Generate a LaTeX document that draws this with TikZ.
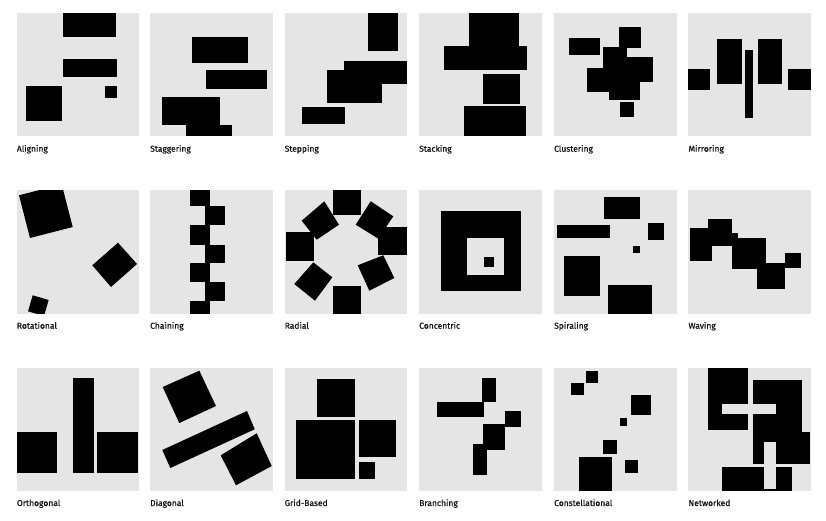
\documentclass[tikz,border=0pt]{standalone}
\usepackage{fontspec}
\setmainfont{Fira Sans}
\newfontfamily\lblfont[FakeBold=0.6]{Fira Sans}
\definecolor{panelgray}{RGB}{229,229,229}
\definecolor{labelcol}{RGB}{20,20,20}
\begin{document}
\begin{tikzpicture}[x=1pt,y=-1pt,
  panel/.style={fill=panelgray},
  blk/.style={fill=black},
  slot/.style={fill=panelgray},
  lbl/.style={anchor=base west,inner sep=0pt,text=labelcol,font=\lblfont\fontsize{8.5}{10}\selectfont}]
\useasboundingbox (0,0) rectangle (826,521);
\fill[white] (0,0) rectangle (826,521);
% ---------- panels ----------
\foreach \px in {16.7,150,284.5,419,554,688.3}{
  \fill[panel] (\px,13) rectangle ++(122.5,123);
  \fill[panel] (\px,190.5) rectangle ++(122.5,123);
  \fill[panel] (\px,368.3) rectangle ++(122.5,122.5);
}
% ---------- Row 1 ----------
% Aligning
\fill[blk] (63.3,13) rectangle (115.7,37.3);
\fill[blk] (63.3,59.3) rectangle (117.3,77.3);
\fill[blk] (26,86.3) rectangle (61.7,121.3);
\fill[blk] (105.3,86.3) rectangle (117.3,98);
\node[lbl] (l1) at (16.7,151.7) {Aligning};
% Staggering
\fill[blk] (192,37.3) rectangle (248.3,63.3);
\fill[blk] (205.7,70.3) rectangle (267.3,88.7);
\fill[blk] (162.3,97.3) rectangle (220.3,125.3);
\fill[blk] (185.7,125) rectangle (231.7,136);
\node[lbl] (l2) at (150,151.7) {Staggering};
% Stepping
\fill[blk] (368.3,13) rectangle (398,51.3);
\fill[blk] (344.3,61.3) rectangle (407,83.7);
\fill[blk] (327,70.3) rectangle (382.3,102.7);
\fill[blk] (302,106.7) rectangle (345,124.3);
\node[lbl] (l3) at (284.5,151.7) {Stepping};
% Stacking
\fill[blk] (469,13) rectangle (519.3,46.7);
\fill[blk] (443.7,46) rectangle (527.3,69.7);
\fill[blk] (482.7,74) rectangle (520.3,104.3);
\fill[blk] (463.7,106) rectangle (526.3,136);
\node[lbl] (l4) at (419,151.7) {Stacking};
% Clustering
\fill[blk] (569,37.7) rectangle (600.3,55);
\fill[blk] (618.7,27.3) rectangle (640.7,48.3);
\fill[blk] (603,47) rectangle (627,68.3);
\fill[blk] (603,56.7) rectangle (652.7,81.7);
\fill[blk] (586.7,68.3) rectangle (639.7,91.7);
\fill[blk] (608.7,81) rectangle (639.7,100);
\fill[blk] (620,102.3) rectangle (634.3,116.7);
\node[lbl] (l5) at (554,151.7) {Clustering};
% Mirroring
\fill[blk] (688.3,69.3) rectangle (710.3,90.3);
\fill[blk] (717,39.3) rectangle (741.7,84);
\fill[blk] (745.3,50.3) rectangle (753.3,118.3);
\fill[blk] (757.7,39.3) rectangle (782,84);
\fill[blk] (788.3,69.3) rectangle (810.8,90.3);
\node[lbl] (l6) at (688.3,151.7) {Mirroring};
% ---------- Row 2 ----------
% Rotational
\begin{scope}
  \clip (16.7,190.5) rectangle ++(122.5,123);
  \fill[blk] (30,238) -- (72.7,227) -- (61.7,184.3) -- (19,195.3) -- cycle;
  \fill[blk] (118,242.7) -- (137,264) -- (111,287) -- (92.3,265.3) -- cycle;
  \fill[blk] (32.7,295.3) -- (48.7,300) -- (44,316) -- (28,311.3) -- cycle;
\end{scope}
\node[lbl] (l7) at (16.7,328.7) {Rotational};
% Chaining
\fill[blk] (189.7,190.5) rectangle (210,205.7);
\fill[blk] (204.7,205.7) rectangle (224.7,225.3);
\fill[blk] (189.7,225.3) rectangle (210,244.7);
\fill[blk] (204.7,244.7) rectangle (224.7,263);
\fill[blk] (189.7,263) rectangle (210,282);
\fill[blk] (204.7,282) rectangle (224.7,301.3);
\fill[blk] (189.7,301.3) rectangle (210,313.5);
\node[lbl] (l8) at (150,328.7) {Chaining};
% Radial
\fill[blk] (332.7,190.5) rectangle (360.7,215.3);
\fill[blk] (301.7,220.7) -- (324.3,201.3) -- (339,224.7) -- (316.7,239.7) -- cycle;
\fill[blk] (355.7,224.7) -- (370.7,201.3) -- (393.3,216.3) -- (378.3,238.7) -- cycle;
\fill[blk] (378.3,227.3) rectangle (407,255.3);
\fill[blk] (285.7,232.3) rectangle (314,260.7);
\fill[blk] (294.3,284) -- (313.3,262.3) -- (332.3,277.3) -- (315,300.7) -- cycle;
\fill[blk] (357.7,265.3) -- (383.3,255.3) -- (394.3,278) -- (369.3,290.7) -- cycle;
\fill[blk] (333.3,286.3) rectangle (361,313.5);
\node[lbl] (l9) at (284.5,328.7) {Radial};
% Concentric
\fill[blk] (440.7,211.3) rectangle (520.7,291);
\fill[slot] (467.3,238.3) rectangle (504,275.3);
\fill[blk] (484,256.7) rectangle (494.3,267);
\node[lbl] (l10) at (419,328.7) {Concentric};
% Spiraling
\fill[blk] (604,197.3) rectangle (639.7,219);
\fill[blk] (556.7,225.3) rectangle (610.3,238.3);
\fill[blk] (647.7,223.3) rectangle (664,240);
\fill[blk] (633.3,246.3) rectangle (640.3,253.3);
\fill[blk] (563.7,255.7) rectangle (599.7,296);
\fill[blk] (608,285.3) rectangle (652.3,313.5);
\node[lbl] (l11) at (554,328.7) {Spiraling};
% Waving
\fill[blk] (689.7,227.7) rectangle (711.7,261);
\fill[blk] (707.7,218.7) rectangle (732,245.7);
\fill[blk] (726,233) rectangle (738.3,245.7);
\fill[blk] (732,238) rectangle (766.3,269);
\fill[blk] (757,263) rectangle (785,289);
\fill[blk] (785,253) rectangle (801.3,268.3);
\node[lbl] (l12) at (688.3,328.7) {Waving};
% ---------- Row 3 ----------
% Orthogonal
\fill[blk] (17.3,432.3) rectangle (57.3,472.7);
\fill[blk] (73.3,378.3) rectangle (94.3,472.7);
\fill[blk] (97.3,432.3) rectangle (137.7,472.7);
\node[lbl] (l13) at (16.7,506) {Orthogonal};
% Diagonal
\fill[blk] (162.7,387) -- (199.3,370.7) -- (216,406) -- (179.3,423) -- cycle;
\fill[blk] (162.3,450) -- (247,411) -- (254.7,429.3) -- (170.3,468) -- cycle;
\fill[blk] (220.7,455.3) -- (256.7,433.3) -- (271.7,466) -- (236,485.3) -- cycle;
\node[lbl] (l14) at (150,506) {Diagonal};
% Grid-Based
\fill[blk] (317.3,379) rectangle (354.7,416.7);
\fill[blk] (296.3,420.3) rectangle (354.7,478.7);
\fill[blk] (358.7,420.3) rectangle (396.3,457.3);
\fill[blk] (358.7,461.7) rectangle (375.3,478.7);
\node[lbl] (l15) at (284.5,506) {Grid-Based};
% Branching
\fill[blk] (482.3,378.3) rectangle (496.3,402.3);
\fill[blk] (437.3,401.7) rectangle (483.7,416.7);
\fill[blk] (504.7,410.7) rectangle (521.3,427.3);
\fill[blk] (483,423.7) rectangle (505.3,450.3);
\fill[blk] (473,444) rectangle (487.3,475.3);
\node[lbl] (l16) at (419,506) {Branching};
% Constellational
\fill[blk] (585.7,371) rectangle (597.7,382.7);
\fill[blk] (571.3,383.3) rectangle (584,394.7);
\fill[blk] (630.7,395) rectangle (650.7,415.3);
\fill[blk] (619.7,418.3) rectangle (627.3,426);
\fill[blk] (603.3,440.3) rectangle (616.7,454.3);
\fill[blk] (624.7,460) rectangle (638.3,473.3);
\fill[blk] (578.7,457.3) rectangle (612.3,490.5);
\node[lbl] (l17) at (554,506) {Constellational};
% Networked
\fill[blk] (707.7,368.3) rectangle (748.3,430.3);
\fill[blk] (753.3,380.3) rectangle (802.3,464.3);
\fill[blk] (776,432.3) rectangle (810.3,464.3);
\fill[blk] (721.7,467) rectangle (792,490.5);
\fill[slot] (721.7,404.3) rectangle (776,413.7);
\fill[slot] (764.3,441.7) rectangle (776,488.7);
\node[lbl] (l18) at (688.3,506) {Networked};
\end{tikzpicture}
\end{document}
